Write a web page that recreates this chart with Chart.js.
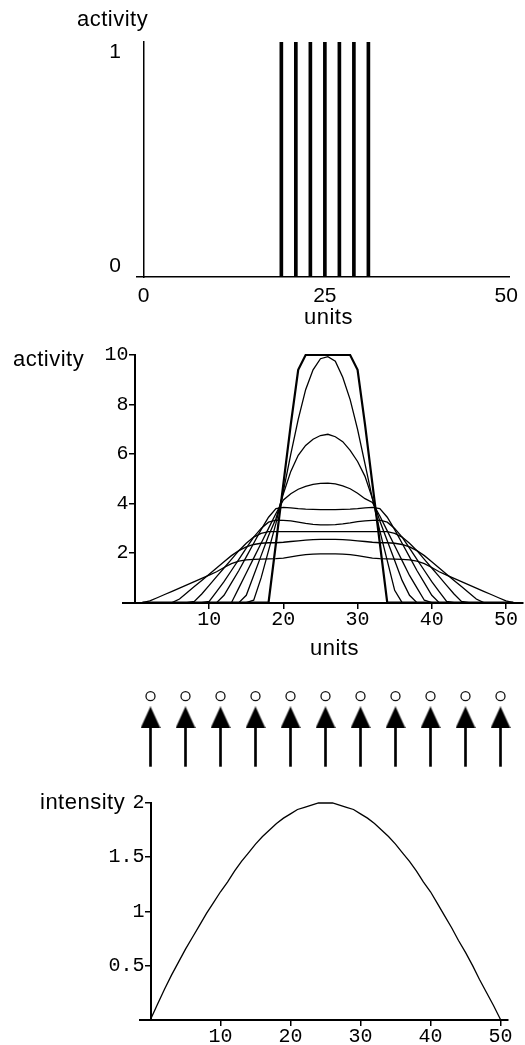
<!DOCTYPE html>
<html>
<head>
<meta charset="utf-8">
<script src="https://cdn.jsdelivr.net/npm/chart.js@4.4.1/dist/chart.umd.min.js"></script>
<style>
  html, body { margin: 0; padding: 0; background: #fff; }
  #page { position: relative; width: 525px; height: 1045px; overflow: hidden; background: #fff; }
  #page canvas { position: absolute; left: 0; }
  .lbl { position: absolute; font-family: "Liberation Sans", Arial, sans-serif; font-size: 22px;
         letter-spacing: 0.5px; line-height: 1; color: #000; white-space: nowrap; }
</style>
</head>
<body>
<div id="page">
  <canvas id="spikes" width="525" height="330" style="top:0px"></canvas>
  <canvas id="spread" width="525" height="330" style="top:330px"></canvas>
  <canvas id="inputs" width="525" height="105" style="top:675px"></canvas>
  <canvas id="intensity" width="525" height="265" style="top:780px"></canvas>

  <div class="lbl" style="left:77px; top:8px;">activity</div>
  <div class="lbl" style="left:304px; top:306px;">units</div>
  <div class="lbl" style="left:13px; top:348px;">activity</div>
  <div class="lbl" style="left:310px; top:637px;">units</div>
  <div class="lbl" style="left:40px; top:791px;">intensity</div>
</div>

<script>
// ---- top panel: initial activity spikes ----
const spikeUnits = [19, 21, 23, 25, 27, 29, 31];
const spikeActivity = [1, 1, 1, 1, 1, 1, 1];
const spikeXTicks = [0, 25, 50];

// ---- middle panel: activity profiles over units 1..51 ----
const spreadUnits = [1, 2, 3, 4, 5, 6, 7, 8, 9, 10,
  11, 12, 13, 14, 15, 16, 17, 18, 19, 20,
  21, 22, 23, 24, 25, 26, 27, 28, 29, 30,
  31, 32, 33, 34, 35, 36, 37, 38, 39, 40,
  41, 42, 43, 44, 45, 46, 47, 48, 49, 50, 51];

const profileA = [0, 0, 0, 0, 0, 0, 0, 0, 0, 0,
  0, 0, 0, 0, 0, 0, 0, 0, 2.4, 4.8,
  7.2, 9.4, 10, 10, 10, 10, 10, 10, 10, 9.4,
  7.2, 4.8, 2.4, 0, 0, 0, 0, 0, 0, 0,
  0, 0, 0, 0, 0, 0, 0, 0, 0, 0, 0];
const profileB = [0, 0, 0, 0, 0, 0, 0, 0, 0, 0,
  0, 0, 0, 0, 0, 0.1, 1.0, 2.1, 3.2, 4.5,
  6.0, 7.4, 8.6, 9.4, 9.85, 9.93, 9.75, 9.1, 8.2, 7.0,
  5.6, 4.2, 2.9, 1.7, 0.5, 0, 0, 0, 0, 0,
  0, 0, 0, 0, 0, 0, 0, 0, 0, 0, 0];
const profileC = [0, 0, 0, 0, 0, 0, 0, 0, 0, 0,
  0, 0, 0, 0, 0.3, 1.1, 1.9, 2.7, 3.4, 4.4,
  5.3, 5.95, 6.35, 6.6, 6.75, 6.8, 6.7, 6.5, 6.15, 5.7,
  5.1, 4.2, 3.3, 2.5, 1.7, 0.9, 0.3, 0, 0, 0,
  0, 0, 0, 0, 0, 0, 0, 0, 0, 0, 0];
const profileD = [0, 0, 0, 0, 0, 0, 0, 0, 0, 0,
  0, 0, 0, 0.6, 1.2, 1.8, 2.4, 3.0, 3.6, 4.15,
  4.4, 4.58, 4.7, 4.78, 4.82, 4.83, 4.8, 4.72, 4.6, 4.42,
  4.2, 4.05, 3.5, 2.9, 2.3, 1.7, 1.1, 0.6, 0.1, 0,
  0, 0, 0, 0, 0, 0, 0, 0, 0, 0, 0];
const profileE = [0, 0, 0, 0, 0, 0, 0, 0, 0, 0,
  0, 0.3, 0.8, 1.3, 1.85, 2.4, 2.95, 3.45, 3.8, 3.85,
  3.83, 3.8, 3.78, 3.77, 3.76, 3.76, 3.76, 3.77, 3.78, 3.8,
  3.83, 3.85, 3.8, 3.45, 2.95, 2.4, 1.85, 1.3, 0.8, 0.3,
  0, 0, 0, 0, 0, 0, 0, 0, 0, 0, 0];
const profileF = [0, 0, 0, 0, 0, 0, 0, 0, 0, 0.05,
  0.45, 0.85, 1.3, 1.75, 2.2, 2.65, 3.0, 3.25, 3.33, 3.32,
  3.3, 3.25, 3.2, 3.16, 3.14, 3.14, 3.15, 3.18, 3.22, 3.27,
  3.3, 3.32, 3.33, 3.25, 3.0, 2.65, 2.2, 1.75, 1.3, 0.85,
  0.45, 0.05, 0, 0, 0, 0, 0, 0, 0, 0, 0];
const profileG = [0, 0, 0, 0, 0, 0, 0, 0.05, 0.35, 0.7,
  1.05, 1.4, 1.75, 2.1, 2.4, 2.65, 2.8, 2.87, 2.87, 2.87,
  2.87, 2.87, 2.87, 2.87, 2.87, 2.87, 2.87, 2.87, 2.87, 2.87,
  2.87, 2.87, 2.87, 2.87, 2.8, 2.65, 2.4, 2.1, 1.75, 1.4,
  1.05, 0.7, 0.35, 0.05, 0, 0, 0, 0, 0, 0, 0];
const profileH = [0, 0, 0, 0, 0, 0.15, 0.4, 0.65, 0.9, 1.15,
  1.4, 1.65, 1.9, 2.1, 2.25, 2.35, 2.4, 2.42, 2.42, 2.44,
  2.47, 2.5, 2.53, 2.55, 2.56, 2.56, 2.56, 2.55, 2.53, 2.5,
  2.47, 2.44, 2.42, 2.42, 2.4, 2.35, 2.25, 2.1, 1.9, 1.65,
  1.4, 1.15, 0.9, 0.65, 0.4, 0.15, 0, 0, 0, 0, 0];
const profileI = [0, 0.07, 0.2, 0.33, 0.46, 0.59, 0.72, 0.85, 0.98, 1.11,
  1.25, 1.42, 1.58, 1.68, 1.73, 1.75, 1.76, 1.77, 1.78, 1.8,
  1.85, 1.9, 1.94, 1.96, 1.97, 1.97, 1.97, 1.96, 1.94, 1.9,
  1.85, 1.8, 1.78, 1.77, 1.76, 1.75, 1.73, 1.68, 1.58, 1.42,
  1.25, 1.11, 0.98, 0.85, 0.72, 0.59, 0.46, 0.33, 0.2, 0.07, 0];
const spreadXTicks = [10, 20, 30, 40, 50];
const spreadYTicks = [2, 4, 6, 8, 10];

// ---- input row and bottom panel: input intensity over units 0..50 ----
const inputUnits = [0, 5, 10, 15, 20, 25, 30, 35, 40, 45, 50];
const intensityUnits = [0, 1, 2, 3, 4, 5, 6, 7, 8, 9,
  10, 11, 12, 13, 14, 15, 16, 17, 18, 19,
  20, 21, 22, 23, 24, 25, 26, 27, 28, 29,
  30, 31, 32, 33, 34, 35, 36, 37, 38, 39,
  40, 41, 42, 43, 44, 45, 46, 47, 48, 49, 50];
const intensityValues = [0, 0.14, 0.28, 0.41, 0.53, 0.65, 0.76, 0.87, 0.98, 1.08,
  1.18, 1.27, 1.37, 1.46, 1.54, 1.62, 1.69, 1.75, 1.81, 1.86,
  1.9, 1.94, 1.96, 1.98, 2.0, 2.0, 2.0, 1.98, 1.96, 1.94,
  1.9, 1.86, 1.81, 1.75, 1.69, 1.62, 1.54, 1.46, 1.37, 1.27,
  1.18, 1.07, 0.96, 0.85, 0.73, 0.62, 0.5, 0.37, 0.25, 0.13, 0];
const intensityXTicks = [10, 20, 30, 40, 50];
const intensityYTicks = [0.5, 1, 1.5, 2];

// ---- shared helpers ----
const SANS = '"Liberation Sans", Arial, sans-serif';
const MONO = '"Liberation Mono", "DejaVu Sans Mono", monospace';

function fixedTicks(values) {
  return scale => { scale.ticks = values.map(v => ({ value: v })); };
}
function pairs(xs, ys) { return xs.map((x, i) => ({ x: x, y: ys[i] })); }

// A zero-width left axis that only prints right-aligned tick labels
// (mirrored so they are not clipped); the visible axis line sits at x = 0.
function labelAxis(min, max, values, padding, font, align) {
  return {
    type: 'linear', axis: 'y', position: 'left', min: min, max: max,
    afterBuildTicks: fixedTicks(values),
    afterFit: s => { s.width = 0; },
    grid: { display: false, drawTicks: false },
    border: { display: false },
    ticks: {
      color: '#000', mirror: true, crossAlign: 'far', padding: padding,
      align: align || 'center', font: font, callback: v => String(v)
    }
  };
}

const base = {
  responsive: false,
  animation: false,
  devicePixelRatio: 1,
  events: [],
  plugins: { legend: { display: false }, tooltip: { enabled: false } }
};
const tickMarks = { display: true, drawOnChartArea: false, drawTicks: true, tickLength: 5, color: '#000', lineWidth: 1.5 };

// top panel
const sansTick = { family: SANS, size: 21 };
new Chart(document.getElementById('spikes'), {
  type: 'bar',
  data: {
    datasets: [{
      data: pairs(spikeUnits, spikeActivity),
      backgroundColor: '#000',
      borderWidth: 0,
      barThickness: 3
    }]
  },
  options: Object.assign({}, base, {
    layout: { padding: { left: 137, right: 14, top: 42, bottom: 53 } },
    scales: {
      x: {
        type: 'linear', min: -0.9, max: 50.4, offset: false, position: { y: 0 },
        afterBuildTicks: fixedTicks(spikeXTicks),
        grid: { display: false, drawTicks: false, offset: false },
        border: { display: true, color: '#000', width: 1.5 },
        ticks: { color: '#000', padding: 7, maxRotation: 0, font: sansTick, callback: v => String(v) }
      },
      y: {
        type: 'linear', min: 0, max: 1, position: { x: 0 },
        grid: { display: false, drawTicks: false },
        border: { display: true, color: '#000', width: 1.5 },
        ticks: { display: false }
      },
      yTop: labelAxis(0, 1, [1], -27.7, sansTick, 'start'),
      yBottom: labelAxis(0, 1, [0], -27.7, sansTick, 'end')
    }
  })
});

// middle panel
const monoTick = { family: MONO, size: 20 };
const profiles = [profileA, profileB, profileC, profileD, profileE, profileF, profileG, profileH, profileI];
new Chart(document.getElementById('spread'), {
  type: 'line',
  data: {
    datasets: profiles.map((p, i) => ({
      data: pairs(spreadUnits, p),
      borderColor: '#000',
      borderWidth: i === 0 ? 2.2 : 1.3,
      pointRadius: 0,
      tension: 0,
      fill: false,
      clip: false
    }))
  },
  options: Object.assign({}, base, {
    layout: { padding: { left: 123.1, right: 2.7, top: 25, bottom: 57.3 } },
    scales: {
      x: {
        type: 'linear', min: -1.6, max: 52.2, position: { y: 0 },
        afterBuildTicks: fixedTicks(spreadXTicks),
        grid: tickMarks,
        border: { display: true, color: '#000', width: 2 },
        ticks: { color: '#000', padding: 0, maxRotation: 0, font: monoTick, callback: v => String(v) }
      },
      y: {
        type: 'linear', min: 0, max: 10, position: { x: 0 },
        afterBuildTicks: fixedTicks(spreadYTicks),
        grid: tickMarks,
        border: { display: true, color: '#000', width: 2 },
        ticks: { display: false }
      },
      yLabels: labelAxis(0, 10, spreadYTicks, -18.5, monoTick)
    }
  })
});

// input row: arrows pointing up with a small ring above each
const headImg = document.createElement('canvas');
headImg.width = 20; headImg.height = 22;
(function () {
  const c = headImg.getContext('2d');
  c.fillStyle = '#000';
  c.beginPath(); c.moveTo(10, 0); c.lineTo(20, 22); c.lineTo(0, 22); c.closePath(); c.fill();
})();

new Chart(document.getElementById('inputs'), {
  type: 'bar',
  data: {
    datasets: [
      {
        type: 'bar',
        data: inputUnits.map(u => ({ x: u, y: [3, 49] })),
        backgroundColor: '#000',
        borderWidth: 0,
        barThickness: 2,
        clip: false
      },
      {
        type: 'line',
        showLine: false,
        data: inputUnits.map(u => ({ x: u, y: 59.1 })),
        pointStyle: headImg,
        pointRadius: 10,
        clip: false
      },
      {
        type: 'line',
        showLine: false,
        data: inputUnits.map(u => ({ x: u, y: 83.3 })),
        pointStyle: 'circle',
        pointRadius: 4.5,
        pointBorderWidth: 1.3,
        pointBorderColor: '#111',
        pointBackgroundColor: '#fff',
        clip: false
      }
    ]
  },
  options: Object.assign({}, base, {
    layout: { padding: { left: 140, right: 17.5, top: 5, bottom: 5 } },
    scales: {
      x: { type: 'linear', min: -1.5, max: 51, offset: false, display: false },
      y: { type: 'linear', min: 0, max: 95, display: false }
    }
  })
});

// bottom panel
new Chart(document.getElementById('intensity'), {
  type: 'line',
  data: {
    datasets: [{
      data: pairs(intensityUnits, intensityValues),
      borderColor: '#000',
      borderWidth: 1.3,
      pointRadius: 0,
      tension: 0,
      fill: false,
      clip: false
    }]
  },
  options: Object.assign({}, base, {
    layout: { padding: { left: 140, right: 17.5, top: 23, bottom: 25.5 } },
    scales: {
      x: {
        type: 'linear', min: -1.5, max: 51, position: { y: 0 },
        afterBuildTicks: fixedTicks(intensityXTicks),
        grid: tickMarks,
        border: { display: true, color: '#000', width: 2 },
        ticks: { color: '#000', padding: 0, maxRotation: 0, font: monoTick, callback: v => String(v) }
      },
      y: {
        type: 'linear', min: 0, max: 2, position: { x: 0 },
        afterBuildTicks: fixedTicks(intensityYTicks),
        grid: tickMarks,
        border: { display: true, color: '#000', width: 2 },
        ticks: { display: false }
      },
      yLabels: labelAxis(0, 2, intensityYTicks, -31.5, monoTick)
    }
  })
});
</script>
</body>
</html>
